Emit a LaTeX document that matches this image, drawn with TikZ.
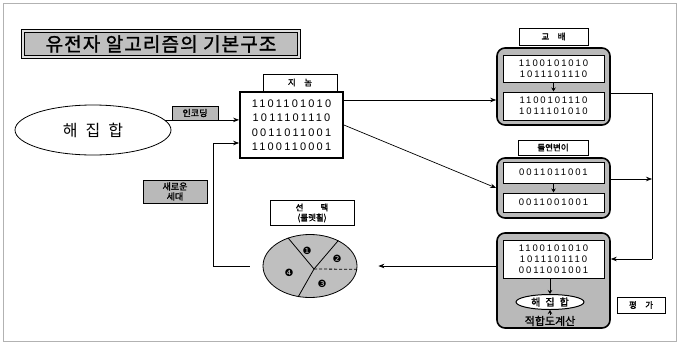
\documentclass[tikz,border=0pt]{standalone}
\usepackage{fontspec}
\setmainfont{Liberation Sans}
\newfontfamily\kr{Noto Sans CJK KR}
\newfontfamily\krb[FakeBold=1.5]{Noto Sans CJK KR}
\newfontfamily\bits[LetterSpace=20]{Liberation Sans}
\newfontfamily\sym{DejaVu Sans}
\usetikzlibrary{arrows.meta,shapes.geometric,calc}

\tikzset{
  arr/.style={draw, line width=0.7pt, -{Stealth[length=6pt,width=4.5pt]}},
  wire/.style={draw, line width=0.7pt},
  tag/.style={draw, line width=0.9pt, fill=white, inner sep=0pt,
    font=\krb\fontsize{8.5}{9}\selectfont},
  graytag/.style={draw, line width=0.8pt, fill=gray!55, inner sep=0pt, align=center,
    font=\krb\fontsize{9}{10}\selectfont},
  frame/.style={draw, line width=1.6pt, rounded corners=8pt, fill=gray!55},
  cell/.style={draw, line width=1pt, fill=white, inner sep=0pt, align=center,
    font=\bits\fontsize{9.5}{11}\selectfont},
  down/.style={draw, line width=1pt, -{Stealth[length=4pt,width=4.5pt]}},
  num/.style={font=\sym\fontsize{10}{10}\selectfont, inner sep=0pt},
}

\begin{document}
\begin{tikzpicture}[x=1pt,y=-1pt]
\useasboundingbox (0,0) rectangle (679,343);
% page border
\draw[gray!60, line width=0.5pt] (3,3) rectangle (676,341);

% title
\node[draw, line width=1pt, double, double distance=1.2pt, double=gray!25,
  fill=gray!50, minimum width=276, minimum height=26, inner sep=0pt,
  font=\krb\fontsize{19}{20}\selectfont] (title) at (161,44)
  {\addfontfeature{LetterSpace=6}유전자 알고리즘의 기본구조};

% initial solution set
\node[draw, line width=0.8pt, ellipse, minimum width=156, minimum height=50,
  inner sep=0pt, font=\kr\fontsize{16}{17}\selectfont] (sol) at (93,130) {해\enspace 집\enspace 합};

% genome
\node[draw, line width=1.8pt, minimum width=103, minimum height=66, inner sep=0pt,
  align=center, font=\bits\fontsize{11}{14.5}\selectfont] (gen) at (291.5,125)
  {1101101010\\1011101110\\0011011001\\1100110001};
\node[tag, minimum width=74, minimum height=17] (genT) at (300,82.5) {지\quad 놈};

\node[graytag, minimum width=46, minimum height=14] (enc) at (195,113) {인코딩};
\node[graytag, minimum width=64, minimum height=23] (newg) at (175,191.5) {새로운\\세대};

% crossover
\node[tag, minimum width=69, minimum height=17] (crossT) at (553.5,36.5) {교\quad 배};
\node[frame, minimum width=113, minimum height=77] (cross) at (553.5,86.5) {};
\node[cell, minimum width=101, minimum height=27] (c1) at (553.5,68.5) {1100101010\\1011101110};
\node[cell, minimum width=101, minimum height=28] (c2) at (553.5,106) {1100101110\\1011101010};
\draw[down] (c1.south) -- (c2.north);

% mutation
\node[tag, minimum width=70, minimum height=15] (mutT) at (553,147.5) {돌연변이};
\node[frame, minimum width=113, minimum height=60] (mut) at (553.5,188) {};
\node[cell, minimum width=101, minimum height=21] (m1) at (553.5,172.5) {0011011001};
\node[cell, minimum width=101, minimum height=19] (m2) at (553.5,202.5) {0011001001};
\draw[down] (m1.south) -- (m2.north);

% evaluation
\node[frame, minimum width=113, minimum height=95] (eval) at (553.5,280.5) {};
\node[cell, minimum width=101, minimum height=38] (e1) at (553.5,259)
  {1100101010\\1011101110\\0011001001};
\node[draw, line width=1pt, ellipse, fill=white, minimum width=68, minimum height=15,
  inner sep=0pt, font=\krb\fontsize{10}{10}\selectfont] (esol) at (550,302) {해\enspace 집\enspace 합};
\node[inner sep=1pt, font=\krb\fontsize{11}{11}\selectfont] (fit) at (550,321) {적합도계산};
\draw[down] (e1.south -| esol) -- (esol.north);
\draw[down] (fit.north) -- (esol.south);
\node[tag, minimum width=48, minimum height=16] (evalT) at (641,305) {평\quad 가};

% selection: roulette wheel
\node[tag, minimum width=84, minimum height=25, align=center,
  font=\krb\fontsize{8.5}{10}\selectfont] (selT) at (312,213) {선\qquad 택\\(룰렛휠)};
\node[draw, line width=0.8pt, ellipse, fill=gray!50, minimum width=94, minimum height=63,
  inner sep=0pt] (pie) at (310,266) {};
\coordinate (pc) at ($(pie.center)+(4,3)$);
\draw[line width=0.8pt] (pc) -- (pie.128);
\draw[line width=0.8pt] (pc) -- (pie.42);
\draw[line width=0.8pt, densely dashed] (pc) -- (pie.-4);
\draw[line width=0.8pt] (pc) -- (pie.249);
\node[num] (p1) at (307,251) {❶};
\node[num] (p2) at (337,259) {❷};
\node[num] (p3) at (322,284) {❸};
\node[num] (p4) at (289,273) {❹};

% connectors
\draw[arr] (sol.8) -- (sol.8 -| gen.west);
\coordinate (loop) at (213,143);
\draw[arr, shorten <=13pt] (pie.west) -- (pie.west -| loop) -- (loop) -- (loop -| gen.west);
\draw[arr] (gen.east |- 0,100) -- (cross.west |- 0,100);
\draw[arr] (gen.east) -- (mut.west);
\coordinate (rt) at (652,93);
\coordinate (rb) at (652,259);
\draw[wire] (cross.east |- rt) -- (rt) -- (rb);
\draw[arr] (rb) -- (rb -| eval.east);
\draw[arr] (mut.east |- 0,179) -- (rt |- 0,179);
\draw[arr, shorten >=21pt] (eval.west |- pie.east) -- (pie.east);
\end{tikzpicture}
\end{document}
